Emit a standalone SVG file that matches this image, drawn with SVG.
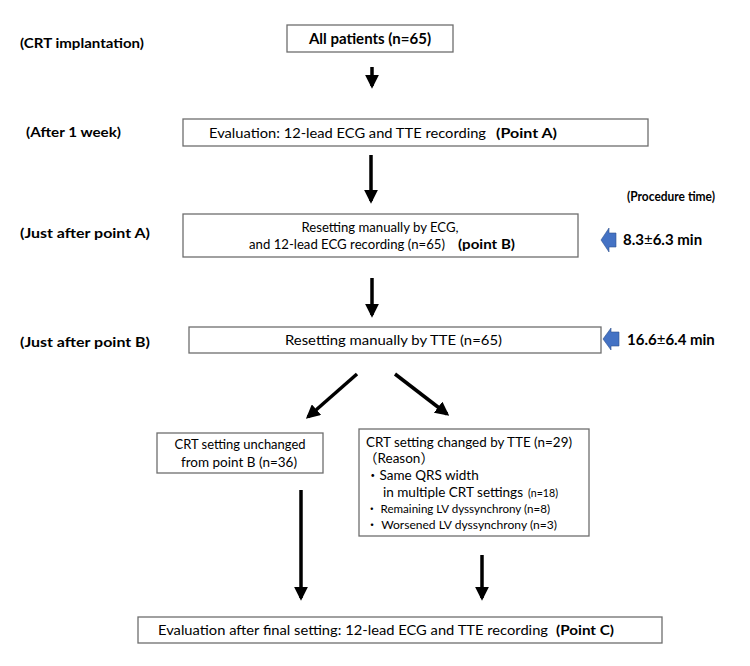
<svg xmlns="http://www.w3.org/2000/svg" width="750" height="666" viewBox="0 0 750 666">
<defs>
<style>
text{font-family:"Lato","Liberation Sans","Noto Sans CJK JP",sans-serif;fill:#000}
.b{font-weight:bold}
.lbl{font-size:14px;font-weight:bold}
.box{fill:#fff;stroke:#6e6e6e;stroke-width:1.3}
.c{stroke:#000;stroke-width:3.5;fill:none}
.blue{fill:#4472c4;stroke:#2f528f;stroke-width:0.6}
</style>
<marker id="ah" viewBox="0 0 10 10" refX="8" refY="5" markerWidth="4" markerHeight="4" markerUnits="strokeWidth" orient="auto">
<path d="M0,0 L10,5 L0,10 z" fill="#000"/>
</marker>
</defs>
<rect width="750" height="666" fill="#fff"/>

<g id="labels">
<text class="lbl" x="20" y="48" textLength="124" lengthAdjust="spacingAndGlyphs">(CRT implantation)</text>
<text class="lbl" x="26" y="137" textLength="95" lengthAdjust="spacingAndGlyphs">(After 1 week)</text>
<text class="lbl" x="20" y="238" textLength="130" lengthAdjust="spacingAndGlyphs">(Just after point A)</text>
<text class="lbl" x="20" y="347" textLength="130" lengthAdjust="spacingAndGlyphs">(Just after point B)</text>
<text class="lbl" x="627" y="201" textLength="88" lengthAdjust="spacingAndGlyphs">(Procedure time)</text>
</g>

<g id="time1">
<path class="blue" d="M601,240 L609,228 L609,233 L616,233 L616,247 L609,247 L609,252 Z"/>
<text class="b" x="623" y="245" font-size="15">8.3<tspan font-weight="normal">±</tspan>6.3 min</text>
</g>
<g id="time2">
<path class="blue" d="M603,339 L611,328 L611,332 L619,332 L619,346 L611,346 L611,350 Z"/>
<text class="b" x="627" y="345" font-size="15">16.6<tspan font-weight="normal">±</tspan>6.4 min</text>
</g>

<g id="n1">
<rect class="box" x="287" y="25" width="166" height="27"/>
<text class="b" x="370" y="44" font-size="15" text-anchor="middle">All patients  (n=65)</text>
</g>

<g id="n2">
<rect class="box" x="183" y="119" width="465" height="27"/>
<text x="209" y="138" font-size="14" textLength="277" lengthAdjust="spacingAndGlyphs">Evaluation: 12-lead ECG and TTE recording</text>
<text class="b" x="496" y="138" font-size="14" textLength="61" lengthAdjust="spacingAndGlyphs">(Point A)</text>
</g>

<g id="n3">
<rect class="box" x="183" y="214" width="395" height="43"/>
<text x="380" y="232" font-size="13" text-anchor="middle" textLength="157" lengthAdjust="spacingAndGlyphs">Resetting manually by ECG,</text>
<text x="249" y="249" font-size="13" textLength="196" lengthAdjust="spacingAndGlyphs">and 12-lead ECG recording  (n=65)</text>
<text class="b" x="458" y="249" font-size="14" textLength="57" lengthAdjust="spacingAndGlyphs">(point B)</text>
</g>

<g id="n4">
<rect class="box" x="189" y="327" width="412" height="26"/>
<text x="285" y="345" font-size="14" textLength="217" lengthAdjust="spacingAndGlyphs">Resetting manually by TTE (n=65)</text>
</g>

<g id="n5">
<rect class="box" x="157" y="433" width="166" height="40"/>
<text x="240" y="449" font-size="14" text-anchor="middle" textLength="131" lengthAdjust="spacingAndGlyphs">CRT setting unchanged</text>
<text x="239" y="467" font-size="14" text-anchor="middle" textLength="116" lengthAdjust="spacingAndGlyphs">from point B  (n=36)</text>
</g>

<g id="n6">
<rect class="box" x="359" y="429" width="230" height="107"/>
<text x="366" y="447" font-size="13.5" textLength="206" lengthAdjust="spacingAndGlyphs">CRT setting  changed  by TTE (n=29)</text>
<text x="364" y="463" font-size="13.5">（Reason）</text>
<text x="366" y="480" font-size="13.5">・Same QRS width</text>
<text x="383" y="497" font-size="13.5" textLength="140" lengthAdjust="spacingAndGlyphs">in multiple CRT settings</text>
<text x="528" y="497" font-size="11" textLength="30" lengthAdjust="spacingAndGlyphs">(n=18)</text>
<text x="366" y="513" font-size="11.5" textLength="184" lengthAdjust="spacingAndGlyphs">・ Remaining LV dyssynchrony (n=8)</text>
<text x="366" y="529" font-size="11.5" textLength="191" lengthAdjust="spacingAndGlyphs">・  Worsened LV dyssynchrony   (n=3)</text>
</g>

<g id="n7">
<rect class="box" x="138" y="617" width="524" height="26"/>
<text x="158" y="635" font-size="14" textLength="390" lengthAdjust="spacingAndGlyphs">Evaluation after final setting: 12-lead ECG and TTE recording</text>
<text class="b" x="556" y="635" font-size="14" textLength="58" lengthAdjust="spacingAndGlyphs">(Point C)</text>
</g>

<g id="connectors">
<line class="c" x1="372" y1="67" x2="372" y2="86" marker-end="url(#ah)"/>
<line class="c" x1="371" y1="155" x2="371" y2="201" marker-end="url(#ah)"/>
<line class="c" x1="372" y1="278" x2="372" y2="315" marker-end="url(#ah)"/>
<line class="c" x1="357" y1="374" x2="308" y2="417" marker-end="url(#ah)"/>
<line class="c" x1="395" y1="374" x2="447" y2="414" marker-end="url(#ah)"/>
<line class="c" x1="301" y1="490" x2="301" y2="598" marker-end="url(#ah)"/>
<line class="c" x1="482" y1="555" x2="482" y2="598" marker-end="url(#ah)"/>
</g>
</svg>
